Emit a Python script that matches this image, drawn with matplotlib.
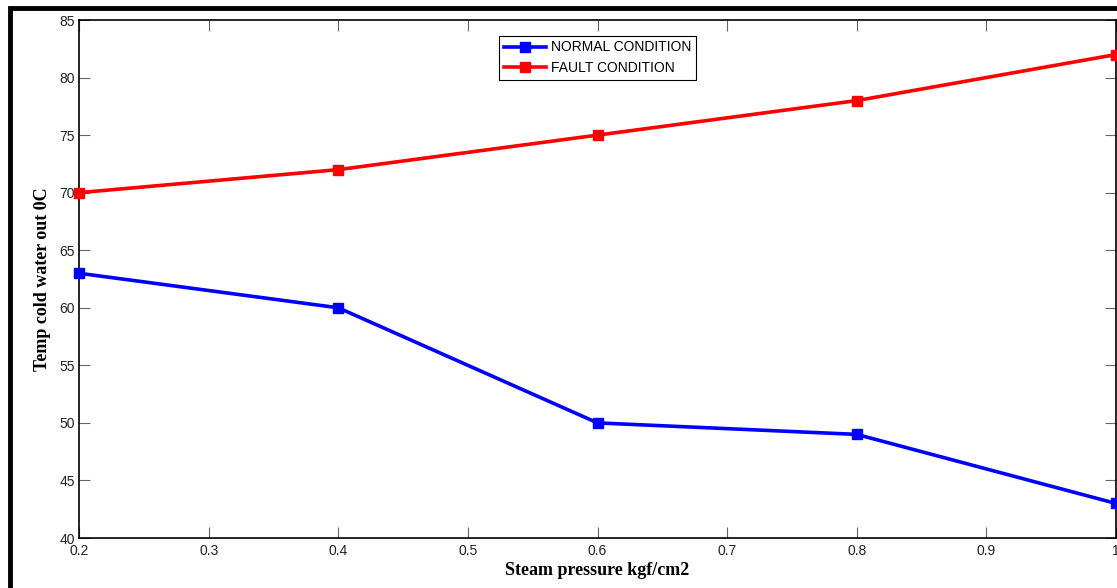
import matplotlib.pyplot as plt
from matplotlib.patches import Rectangle

# datos
pressure = [0.2, 0.4, 0.6, 0.8, 1.0]
normal_temp = [63, 60, 50, 49, 43]
fault_temp = [70, 72, 75, 78, 82]
x_ticks = [0.2, 0.3, 0.4, 0.5, 0.6, 0.7, 0.8, 0.9, 1.0]
x_tick_labels = ['0.2', '0.3', '0.4', '0.5', '0.6', '0.7', '0.8', '0.9', '1']
y_ticks = [40, 45, 50, 55, 60, 65, 70, 75, 80, 85]

fig = plt.figure(figsize=(11.17, 5.88), dpi=100)
ax = fig.add_axes([79 / 1117, 50 / 588, 1037 / 1117, 518 / 588])

# marco grueso alrededor de la figura
fig.patches.append(Rectangle((10 / 1117, -0.1), 1.2, 1.1 - 8 / 588, transform=fig.transFigure,
                             fill=False, edgecolor='black', linewidth=3.5))

ax.plot(pressure, normal_temp, color='#0000ff', linewidth=2.6, marker='s', markersize=7.5,
        label='NORMAL CONDITION', clip_on=False, zorder=3)
ax.plot(pressure, fault_temp, color='#ff0000', linewidth=2.6, marker='s', markersize=7.5,
        label='FAULT CONDITION', clip_on=False, zorder=3)

ax.set_xlim(0.2, 1.0)
ax.set_ylim(40, 85)
ax.set_xticks(x_ticks)
ax.set_xticklabels(x_tick_labels)
ax.set_yticks(y_ticks)
ax.tick_params(direction='in', length=8, width=0.8, top=True, right=True,
               labelsize=10, colors='#666666', pad=3)
ax.tick_params(axis='x', pad=4.5)
for lbl in ax.get_xticklabels() + ax.get_yticklabels():
    lbl.set_fontfamily('Liberation Sans')
    lbl.set_color('#222222')
for s in ax.spines.values():
    s.set_linewidth(1.2)

ax.set_xlabel('Steam pressure kgf/cm2', fontfamily='Liberation Serif', fontweight='bold',
              fontsize=13, labelpad=3)
ax.set_ylabel('Temp cold water out 0C', fontfamily='Liberation Serif', fontweight='bold',
              fontsize=13, labelpad=6)

leg = ax.legend(loc='upper left', bbox_to_anchor=(0.405, 0.97), fancybox=False, framealpha=1,
                edgecolor='black', prop={'family': 'Liberation Sans', 'size': 10},
                handlelength=3.0, borderpad=0.35, labelspacing=0.45, handletextpad=0.4,
                borderaxespad=0)
leg.get_frame().set_linewidth(0.8)

fig.savefig('out.png', dpi=100)
